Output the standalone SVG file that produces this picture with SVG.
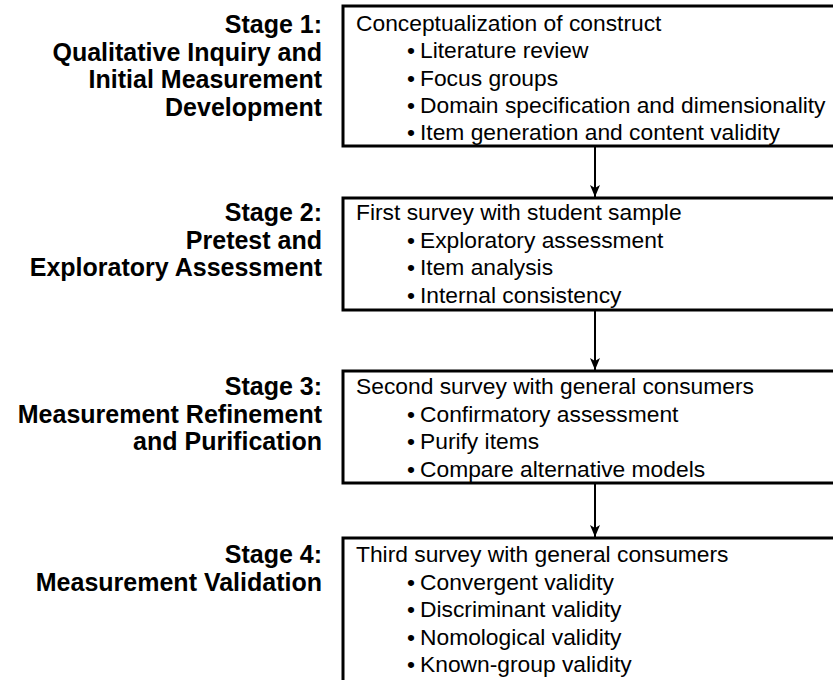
<svg xmlns="http://www.w3.org/2000/svg" width="833" height="680" viewBox="0 0 833 680">
<style>
.box{fill:#fff;stroke:#000;stroke-width:3}
.t{font-family:"Liberation Sans",Arial,sans-serif;font-size:22.8px;fill:#000}
.s{font-family:"Liberation Sans",Arial,sans-serif;font-size:25px;font-weight:bold;fill:#000;text-anchor:end}
.c{stroke:#000;stroke-width:2;fill:none}
</style>
<defs>
<marker id="ah" viewBox="0 0 10 12" refX="5" refY="12" markerWidth="10" markerHeight="12" markerUnits="userSpaceOnUse" orient="0">
<path d="M0,0 L5,3 L10,0 L5,12 Z" fill="#000"/>
</marker>
</defs>
<rect width="833" height="680" fill="#fff"/>
<g id="connectors">
<line class="c" x1="595" y1="146" x2="595" y2="197" marker-end="url(#ah)"/>
<line class="c" x1="595" y1="310" x2="595" y2="370" marker-end="url(#ah)"/>
<line class="c" x1="595" y1="483" x2="595" y2="537" marker-end="url(#ah)"/>
</g>
<g id="label1">
<text class="s" x="322" y="33">Stage 1:</text>
<text class="s" x="322" y="60.5">Qualitative Inquiry and</text>
<text class="s" x="322" y="88">Initial Measurement</text>
<text class="s" x="322" y="115.5">Development</text>
</g>
<g id="stage1">
<rect class="box" x="343" y="6" width="500" height="140"/>
<text class="t" x="356" y="31">Conceptualization of construct</text>
<text class="t" x="407" y="58.3">•</text><text class="t" x="420" y="58.3">Literature review</text>
<text class="t" x="407" y="85.6">•</text><text class="t" x="420" y="85.6">Focus groups</text>
<text class="t" x="407" y="112.9">•</text><text class="t" x="420" y="112.9">Domain specification and dimensionality</text>
<text class="t" x="407" y="140">•</text><text class="t" x="420" y="140">Item generation and content validity</text>
</g>
<g id="label2">
<text class="s" x="322" y="221">Stage 2:</text>
<text class="s" x="322" y="248.5">Pretest and</text>
<text class="s" x="322" y="276">Exploratory Assessment</text>
</g>
<g id="stage2">
<rect class="box" x="343" y="198" width="500" height="112"/>
<text class="t" x="356" y="220">First survey with student sample</text>
<text class="t" x="407" y="247.5">•</text><text class="t" x="420" y="247.5">Exploratory assessment</text>
<text class="t" x="407" y="275">•</text><text class="t" x="420" y="275">Item analysis</text>
<text class="t" x="407" y="302.5">•</text><text class="t" x="420" y="302.5">Internal consistency</text>
</g>
<g id="label3">
<text class="s" x="322" y="395">Stage 3:</text>
<text class="s" x="322" y="422.5">Measurement Refinement</text>
<text class="s" x="322" y="450">and Purification</text>
</g>
<g id="stage3">
<rect class="box" x="343" y="371" width="500" height="112"/>
<text class="t" x="356" y="394">Second survey with general consumers</text>
<text class="t" x="407" y="421.5">•</text><text class="t" x="420" y="421.5">Confirmatory assessment</text>
<text class="t" x="407" y="449">•</text><text class="t" x="420" y="449">Purify items</text>
<text class="t" x="407" y="476.5">•</text><text class="t" x="420" y="476.5">Compare alternative models</text>
</g>
<g id="label4">
<text class="s" x="322" y="563">Stage 4:</text>
<text class="s" x="322" y="590.5">Measurement Validation</text>
</g>
<g id="stage4">
<rect class="box" x="343" y="538" width="500" height="160"/>
<text class="t" x="356" y="562">Third survey with general consumers</text>
<text class="t" x="407" y="589.5">•</text><text class="t" x="420" y="589.5">Convergent validity</text>
<text class="t" x="407" y="617">•</text><text class="t" x="420" y="617">Discriminant validity</text>
<text class="t" x="407" y="644.5">•</text><text class="t" x="420" y="644.5">Nomological validity</text>
<text class="t" x="407" y="672">•</text><text class="t" x="420" y="672">Known-group validity</text>
</g>
</svg>
